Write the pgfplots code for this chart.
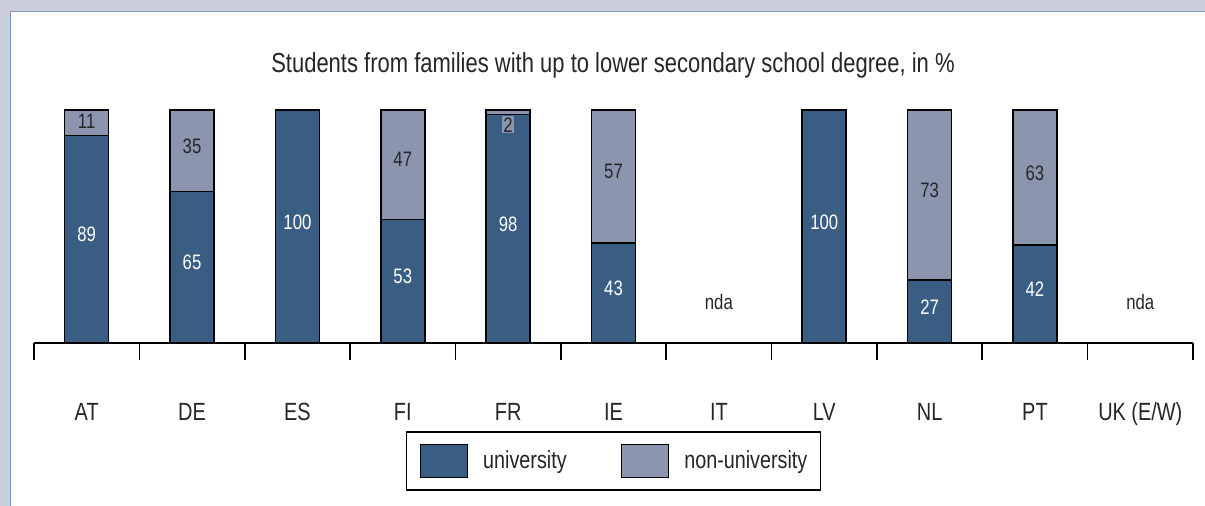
\documentclass[border=0pt]{standalone}
\usepackage{pgfplots}
\pgfplotsset{compat=1.18}
\usepackage{pgfplotstable}
\usepackage{fontspec}
\setmainfont{Liberation Sans}[FakeStretch=0.8]

\definecolor{uni}{RGB}{58,94,131}
\definecolor{nonuni}{RGB}{139,149,174}
\definecolor{framegray}{RGB}{203,206,219}
\definecolor{frameline}{RGB}{125,152,190}

% bars: university share and total height of the bar
\pgfplotstableread{
x    uni  total
0.5  89   100
1.5  65   100
2.5  100  100
3.5  53   100
4.5  98   100
5.5  43   100
7.5  100  100
8.5  27   100
9.5  42   100
}\bars

% label positions (value axis) and printed numbers
\pgfplotstableread{
x    y     lab
0.5  46.5  89
1.5  34.5  65
2.5  52    100
3.5  28.5  53
4.5  51    98
5.5  23.5  43
7.5  52    100
8.5  15.5  27
9.5  23    42
}\unilabels

\pgfplotstableread{
x    y     lab
0.5  95    11
1.5  84.5  35
3.5  79    47
5.5  73.5  57
8.5  65.5  73
9.5  73    63
}\nonunilabels

\pgfplotstableread{
x    y     lab
6.5  17.6  nda
10.5 17.6  nda
}\ndalabels

\begin{document}
\begin{tikzpicture}
\useasboundingbox (0,0) rectangle (602.5bp,253bp);
\fill[framegray] (0,0) rectangle (602.5bp,253bp);
\fill[white] (5bp,0) rectangle (602.5bp,247.5bp);
\draw[frameline, line width=0.6bp] (5.3bp,0) -- (5.3bp,247.2bp) -- (602.5bp,247.2bp);

\node[anchor=base, font=\fontsize{13.8}{16}\selectfont, text=black!85]
  at (306.5bp,216.5bp) {Students from families with up to lower secondary school degree, in \%};

\begin{axis}[
    scale only axis,
    width=579.5bp,
    height=116.5bp,
    at={(17bp,81.5bp)},
    anchor=south west,
    clip=false,
    xmin=0, xmax=11,
    ymin=0, ymax=100,
    axis x line=bottom,
    axis y line=none,
    x axis line style={-, line width=0.8pt},
    xtick={0.5,1.5,...,10.5},
    xticklabels={AT,DE,ES,FI,FR,IE,IT,LV,NL,PT,UK (E/W)},
    major tick length=0pt,
    minor xtick={0,1,...,11},
    minor tick length=8.5bp,
    tick align=outside,
    minor tick style={black, line width=0.8pt},
    xticklabel style={anchor=base, yshift=-38.5bp, font=\fontsize{12.5}{15}\selectfont, text=black!85},
    legend columns=2,
    legend image code/.code={\draw[#1] (0bp,-8.25bp) rectangle (23.5bp,8.25bp);},
    legend style={
        at={(0.5,-0.506)}, anchor=center,
        draw=black, line width=0.8pt,
        font=\fontsize{12.4}{14}\selectfont,
        inner xsep=6.5bp, inner ysep=5.8bp,
        nodes={inner sep=0pt, text=black!85},
        /tikz/every odd column/.append style={column sep=7.5bp},
        /tikz/every even column/.append style={column sep=27bp},
    },
]
\addplot[ybar, bar width=22bp, bar shift=0pt, fill=nonuni, draw=black, line width=0.8pt, forget plot]
    table[x=x, y=total] {\bars};
\addplot[ybar, bar width=22bp, bar shift=0pt, fill=uni, draw=black, line width=0.8pt, forget plot]
    table[x=x, y=uni] {\bars};

\addplot[only marks, mark=none, forget plot, nodes near coords, point meta=explicit symbolic,
    every node near coord/.style={anchor=center, text=white, font=\fontsize{10.5}{12}\selectfont}]
    table[x=x, y=y, meta=lab] {\unilabels};
\addplot[only marks, mark=none, forget plot, nodes near coords, point meta=explicit symbolic,
    every node near coord/.style={anchor=center, text=black!85, font=\fontsize{10.5}{12}\selectfont}]
    table[x=x, y=y, meta=lab] {\nonunilabels};
\addplot[only marks, mark=none, forget plot, nodes near coords, point meta=explicit symbolic,
    every node near coord/.style={anchor=center, text=black!85, fill=nonuni, inner sep=0.6bp, font=\fontsize{10.5}{12}\selectfont}]
    coordinates {(4.5,93.6) [2]};
\addplot[only marks, mark=none, forget plot, nodes near coords, point meta=explicit symbolic,
    every node near coord/.style={anchor=center, text=black!85, font=\fontsize{10.5}{12}\selectfont}]
    table[x=x, y=y, meta=lab] {\ndalabels};

\addlegendimage{fill=uni, draw=black, line width=0.8pt}
\addlegendentry{university}
\addlegendimage{fill=nonuni, draw=black, line width=0.8pt}
\addlegendentry{non-university}
\end{axis}
\end{tikzpicture}
\end{document}
